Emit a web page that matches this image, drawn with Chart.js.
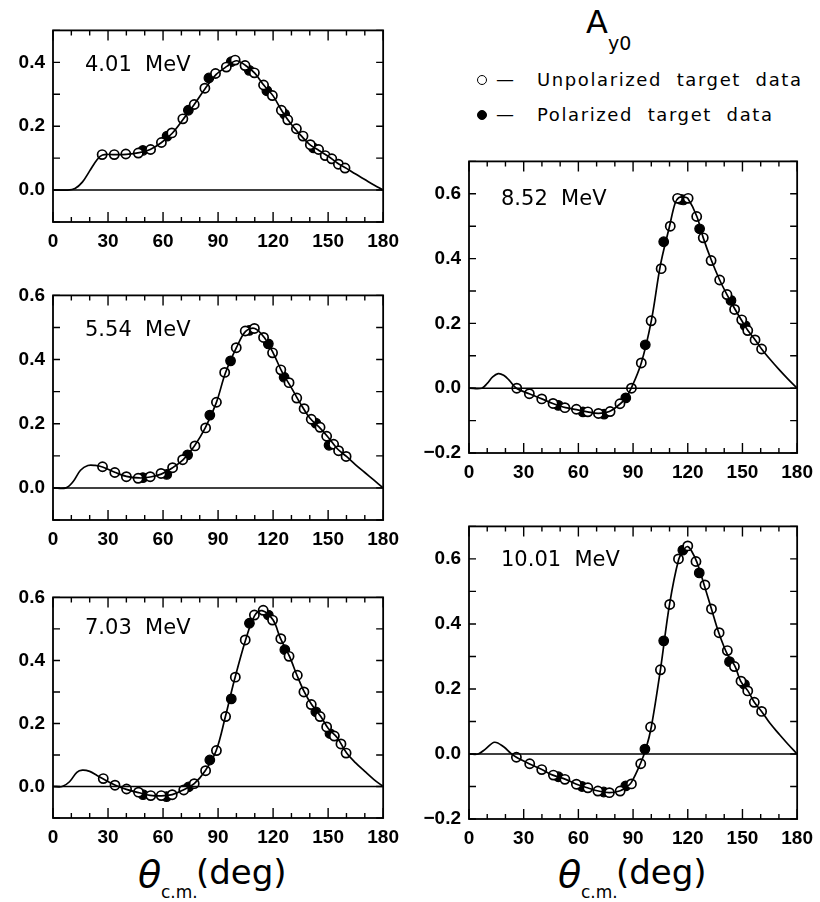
<!DOCTYPE html>
<html>
<head>
<meta charset="utf-8">
<script src="https://cdn.jsdelivr.net/npm/chart.js@4.4.0/dist/chart.umd.min.js"></script>
<style>
body { margin: 0; background: #fff; width: 820px; height: 902px; position: relative; overflow: hidden; font-family: "DejaVu Sans", sans-serif; color: #000; }
canvas { position: absolute; }
.t { position: absolute; white-space: pre; line-height: 1; }
.dot { position: absolute; width: 8px; height: 8px; border: 1.6px solid #000; border-radius: 50%; }
</style>
</head>
<body>

<div class="t" style="left:586px;top:6px;font-size:32px;">A</div>
<div class="t" style="left:608px;top:34px;font-size:19px;">y0</div>
<div class="dot" style="left:477px;top:75px;background:#fff;"></div>
<div class="t" style="left:496px;top:70px;font-size:18px;">—</div>
<div class="t" style="left:537px;top:71px;font-size:18px;letter-spacing:1.6px;">Unpolarized  target  data</div>
<div class="dot" style="left:477px;top:110px;background:#000;"></div>
<div class="t" style="left:496px;top:105px;font-size:18px;">—</div>
<div class="t" style="left:537px;top:106px;font-size:18px;letter-spacing:1.6px;">Polarized  target  data</div>

<div class="t" style="left:138px;top:855px;font-size:38px;font-style:italic;">θ</div>
<div class="t" style="left:161px;top:884px;font-size:17px;">c.m.</div>
<div class="t" style="left:196px;top:855px;font-size:34px;">(deg)</div>
<div class="t" style="left:558px;top:855px;font-size:38px;font-style:italic;">θ</div>
<div class="t" style="left:581px;top:884px;font-size:17px;">c.m.</div>
<div class="t" style="left:616px;top:855px;font-size:34px;">(deg)</div>

<canvas id="c401"></canvas>
<canvas id="c554"></canvas>
<canvas id="c703"></canvas>
<canvas id="c852"></canvas>
<canvas id="c1001"></canvas>

<script>
// A_y0 data: angle (deg, c.m.) and analyzing power
// o = unpolarized target, p = polarized target, c = calculated curve

const ang401o = [26.8, 33.4, 39.7, 46.5, 53.2, 59.1, 64.8, 70.8, 77, 82.8, 88.6, 94.5, 99.3, 104.7, 109.8, 114.8, 119.6, 124.5, 128, 132.7, 136.3, 140.3, 144.8, 148.4, 152, 155.6, 159.2];
const ay401o  = [0.111, 0.111, 0.113, 0.116, 0.127, 0.149, 0.179, 0.223, 0.268, 0.319, 0.365, 0.385, 0.407, 0.39, 0.367, 0.329, 0.296, 0.25, 0.22, 0.192, 0.169, 0.142, 0.127, 0.108, 0.098, 0.081, 0.069];
const ang401p = [49, 62.2, 73.8, 85, 97.2, 107, 116.6, 126.3, 142];
const ay401p  = [0.124, 0.169, 0.25, 0.351, 0.402, 0.375, 0.311, 0.238, 0.132];
const ang401c = [0, 8, 12, 16, 20, 24, 27, 33, 40, 47, 53, 59, 65, 71, 77, 83, 89, 95, 100, 105, 110, 115, 120, 125, 130, 135, 140, 145, 150, 155, 160, 165, 170, 175, 180];
const ay401c  = [0, 0, 0.005, 0.025, 0.06, 0.095, 0.11, 0.111, 0.112, 0.117, 0.127, 0.148, 0.178, 0.222, 0.268, 0.318, 0.362, 0.388, 0.405, 0.39, 0.366, 0.328, 0.295, 0.246, 0.205, 0.172, 0.142, 0.124, 0.106, 0.085, 0.068, 0.05, 0.033, 0.016, 0];

const ang554o = [27, 33.7, 40, 46.4, 53, 58.9, 65.2, 70.7, 77.4, 83.2, 89.1, 93.6, 99.9, 104.8, 109.8, 114.8, 119.7, 124.2, 128.7, 132.9, 136.9, 140.8, 145.6, 149.2, 153, 155.7, 159.8];
const ay554o  = [0.066, 0.048, 0.035, 0.03, 0.035, 0.045, 0.063, 0.088, 0.131, 0.187, 0.267, 0.36, 0.437, 0.489, 0.497, 0.469, 0.421, 0.368, 0.328, 0.28, 0.247, 0.214, 0.189, 0.161, 0.136, 0.116, 0.098];
const ang554p = [49, 62, 73.4, 85.5, 96.8, 107, 117.4, 126, 143.3, 150.5];
const ay554p  = [0.032, 0.042, 0.103, 0.227, 0.396, 0.491, 0.449, 0.345, 0.202, 0.133];
const ang554c = [0, 7, 11, 15, 19, 23, 27, 34, 40, 47, 53, 59, 65, 71, 77, 83, 89, 94, 100, 105, 110, 115, 120, 125, 130, 135, 140, 145, 150, 155, 160, 165, 170, 175, 180];
const ay554c  = [0, 0, 0.02, 0.055, 0.07, 0.07, 0.065, 0.048, 0.036, 0.031, 0.034, 0.043, 0.062, 0.088, 0.13, 0.187, 0.265, 0.358, 0.437, 0.488, 0.497, 0.47, 0.421, 0.36, 0.312, 0.262, 0.218, 0.19, 0.158, 0.122, 0.098, 0.072, 0.048, 0.024, 0];

const ang703o = [27.4, 33.8, 40.1, 46.6, 53.3, 59, 65, 71.3, 77, 83.2, 89.1, 94.1, 99.4, 104.8, 109.8, 114.6, 119.7, 124.2, 128.7, 133.2, 136.8, 140.8, 145.6, 149.2, 153.4, 157, 159.8];
const ay703o  = [0.025, 0.004, -0.008, -0.018, -0.029, -0.029, -0.026, -0.011, 0.009, 0.05, 0.114, 0.222, 0.347, 0.465, 0.544, 0.559, 0.528, 0.469, 0.413, 0.353, 0.3, 0.26, 0.222, 0.189, 0.16, 0.135, 0.106];
const ang703p = [49.1, 61.9, 74, 85.5, 97.2, 107.1, 117.4, 126.4, 143.3, 151];
const ay703p  = [-0.026, -0.032, -0.001, 0.084, 0.278, 0.518, 0.544, 0.434, 0.237, 0.168];
const ang703c = [0, 5, 9, 13, 16, 20, 24, 27, 34, 40, 47, 53, 59, 65, 71, 77, 83, 89, 94, 99, 105, 110, 114, 120, 124, 129, 133, 137, 141, 146, 150, 155, 160, 165, 170, 175, 180];
const ay703c  = [0, 0, 0.015, 0.045, 0.052, 0.048, 0.035, 0.025, 0.004, -0.009, -0.02, -0.028, -0.03, -0.026, -0.011, 0.009, 0.05, 0.114, 0.222, 0.34, 0.465, 0.543, 0.558, 0.528, 0.47, 0.412, 0.353, 0.3, 0.26, 0.222, 0.185, 0.155, 0.107, 0.075, 0.048, 0.022, 0];

const ang852o = [26.2, 33.1, 39.9, 46.1, 52.6, 58.9, 65.2, 71, 77.4, 82.8, 89.1, 94.5, 99.9, 105.4, 110.4, 114.4, 120.2, 124.9, 128.5, 132.8, 137.5, 141.5, 145.7, 149.6, 152.9, 156.9, 160.5];
const ay852o  = [0, -0.017, -0.033, -0.047, -0.06, -0.065, -0.073, -0.078, -0.072, -0.048, 0, 0.078, 0.208, 0.369, 0.5, 0.586, 0.586, 0.53, 0.464, 0.394, 0.334, 0.289, 0.243, 0.211, 0.178, 0.149, 0.121];
const ang852p = [49, 62.5, 74.1, 86, 96.7, 106.8, 116.2, 117.6, 126.5, 143.7, 151.5];
const ay852p  = [-0.053, -0.073, -0.08, -0.03, 0.134, 0.452, 0.583, 0.581, 0.492, 0.271, 0.193];
const ang852c = [0, 7, 10, 13, 16, 19, 22, 26, 33, 40, 46, 53, 59, 65, 71, 77, 83, 86, 89, 94.5, 100, 105, 110, 113, 115, 118, 120, 125, 128.5, 133, 137.5, 141.5, 146, 150, 153, 157, 160.5, 165, 170, 175, 180];
const ay852c  = [0, 0, 0.015, 0.035, 0.045, 0.04, 0.025, 0, -0.017, -0.033, -0.047, -0.06, -0.066, -0.073, -0.078, -0.072, -0.048, -0.03, 0, 0.078, 0.208, 0.38, 0.5, 0.57, 0.588, 0.59, 0.586, 0.53, 0.464, 0.394, 0.334, 0.289, 0.243, 0.205, 0.178, 0.149, 0.121, 0.09, 0.058, 0.028, 0];

const ang1001o = [26, 33.3, 39.9, 46.3, 52.6, 58.9, 65.2, 70.7, 77, 82.9, 89.1, 94.2, 99.6, 105, 110.1, 114.9, 120, 124.5, 129.4, 133, 137.2, 141.7, 145.6, 149.2, 152.9, 156.5, 160.5];
const ay1001o  = [-0.01, -0.03, -0.048, -0.065, -0.078, -0.093, -0.104, -0.114, -0.119, -0.114, -0.092, -0.03, 0.083, 0.259, 0.46, 0.6, 0.64, 0.592, 0.52, 0.446, 0.373, 0.318, 0.269, 0.224, 0.194, 0.159, 0.131];
const ang1001p = [49, 62, 73.9, 86, 96.5, 106.8, 117.3, 126.3, 142.9, 151.1];
const ay1001p  = [-0.07, -0.1, -0.117, -0.098, 0.015, 0.348, 0.627, 0.557, 0.284, 0.214];
const ang1001c = [0, 5, 9, 14, 19, 23, 26, 33, 40, 46, 53, 59, 65, 71, 77, 83, 86, 89, 94, 97, 100, 105, 110, 115, 118, 120, 122, 125, 129, 133, 137, 142, 146, 149, 153, 156.5, 160.5, 165, 170, 175, 180];
const ay1001c  = [0, 0, 0.015, 0.036, 0.022, 0.002, -0.01, -0.03, -0.048, -0.065, -0.078, -0.093, -0.104, -0.114, -0.119, -0.113, -0.103, -0.088, -0.03, 0.015, 0.083, 0.259, 0.46, 0.598, 0.63, 0.638, 0.625, 0.59, 0.52, 0.446, 0.373, 0.303, 0.269, 0.224, 0.194, 0.159, 0.131, 0.095, 0.062, 0.03, 0];

const xTicks = [0, 30, 60, 90, 120, 150, 180];

function pts(xs, ys) {
    return xs.map((x, i) => ({ x: x, y: ys[i] }));
}

// frame, inward ticks on all four sides, and the energy label
const framePlugin = {
    id: 'frame',
    afterDatasetsDraw(chart, args, opts) {
        const ctx = chart.ctx;
        const a = chart.chartArea;
        const xs = chart.scales.x, ys = chart.scales.y;
        ctx.save();
        ctx.strokeStyle = '#000';
        ctx.lineWidth = 1.8;
        ctx.strokeRect(a.left, a.top, a.right - a.left, a.bottom - a.top);
        ctx.lineWidth = 1.4;
        ctx.beginPath();
        for (let d = 0; d <= 180; d += 10) {
            const px = xs.getPixelForValue(d);
            const len = d % 30 === 0 ? 10 : 5;
            ctx.moveTo(px, a.bottom); ctx.lineTo(px, a.bottom - len);
            ctx.moveTo(px, a.top); ctx.lineTo(px, a.top + len);
        }
        for (let k = Math.round(ys.min * 10); k <= Math.round(ys.max * 10); k++) {
            const py = ys.getPixelForValue(k / 10);
            ctx.moveTo(a.left, py); ctx.lineTo(a.left + 7, py);
            ctx.moveTo(a.right, py); ctx.lineTo(a.right - 7, py);
        }
        ctx.stroke();
        ctx.fillStyle = '#000';
        ctx.font = '21px "DejaVu Sans"';
        ctx.textBaseline = 'middle';
        ctx.fillText(opts.label, a.left + 32, a.top + opts.dy);
        ctx.restore();
    }
};

function makePanel(id, geo, label, dy, curveX, curveY, openX, openY, polX, polY) {
    const cv = document.getElementById(id);
    const w = 55 + geo.w + 20, h = 12 + geo.h + 34;
    cv.width = w; cv.height = h;
    cv.style.left = (geo.left - 55) + 'px';
    cv.style.top = (geo.top - 12) + 'px';
    cv.style.width = w + 'px'; cv.style.height = h + 'px';

    const tickFont = { family: 'Liberation Sans', size: 19, weight: 'bold' };
    new Chart(cv.getContext('2d'), {
        type: 'scatter',
        data: {
            datasets: [{
                data: pts([0, 180], [0, 0]),
                showLine: true, borderColor: '#000', borderWidth: 1.5, pointRadius: 0
            }, {
                data: pts(curveX, curveY),
                showLine: true, borderColor: '#000', borderWidth: 1.7, pointRadius: 0,
                tension: 0.35
            }, {
                data: pts(openX, openY),
                pointRadius: 4.6, pointBorderWidth: 1.7,
                pointBackgroundColor: '#fff', pointBorderColor: '#000'
            }, {
                data: pts(polX, polY),
                pointRadius: 4.8, pointBorderWidth: 1.2,
                pointBackgroundColor: '#000', pointBorderColor: '#000'
            }]
        },
        options: {
            responsive: false,
            animation: false,
            devicePixelRatio: 1,
            layout: { padding: { top: 12, right: 20, left: 0, bottom: 0 } },
            plugins: {
                legend: { display: false },
                tooltip: { enabled: false },
                frame: { label: label, dy: dy }
            },
            scales: {
                x: {
                    type: 'linear', min: 0, max: 180,
                    afterBuildTicks: s => { s.ticks = xTicks.map(v => ({ value: v })); },
                    ticks: { autoSkip: false, maxRotation: 0, padding: 8, color: '#000', font: tickFont },
                    grid: { display: false, drawTicks: false },
                    border: { display: false },
                    afterFit: s => { s.height = 34; }
                },
                y: {
                    min: geo.ymin, max: geo.ymax,
                    ticks: {
                        stepSize: 0.1, autoSkip: false, padding: 8, color: '#000', font: tickFont,
                        callback: function(value) {
                            const k = Math.round(value * 10);
                            if (k % 2 !== 0) return '';
                            return (k < 0 ? '\u22120.' : '0.') + Math.abs(k);
                        }
                    },
                    grid: { display: false, drawTicks: false },
                    border: { display: false },
                    afterFit: s => { s.width = 55; }
                }
            }
        },
        plugins: [framePlugin]
    });
}

makePanel('c401',  { left: 53,  top: 23,  w: 334, h: 199, ymin: -0.1, ymax: 0.5 }, '4.01  MeV', 35, ang401c, ay401c, ang401o, ay401o, ang401p, ay401p);
makePanel('c554',  { left: 53,  top: 288, w: 334, h: 232, ymin: -0.1, ymax: 0.6 }, '5.54  MeV', 35, ang554c, ay554c, ang554o, ay554o, ang554p, ay554p);
makePanel('c703',  { left: 53,  top: 590, w: 334, h: 228, ymin: -0.1, ymax: 0.6 }, '7.03  MeV', 31, ang703c, ay703c, ang703o, ay703o, ang703p, ay703p);
makePanel('c852',  { left: 469, top: 154, w: 332, h: 299, ymin: -0.2, ymax: 0.7 }, '8.52  MeV', 38, ang852c, ay852c, ang852o, ay852o, ang852p, ay852p);
makePanel('c1001', { left: 469, top: 519, w: 332, h: 300, ymin: -0.2, ymax: 0.7 }, '10.01  MeV', 34, ang1001c, ay1001c, ang1001o, ay1001o, ang1001p, ay1001p);
</script>
</body>
</html>
